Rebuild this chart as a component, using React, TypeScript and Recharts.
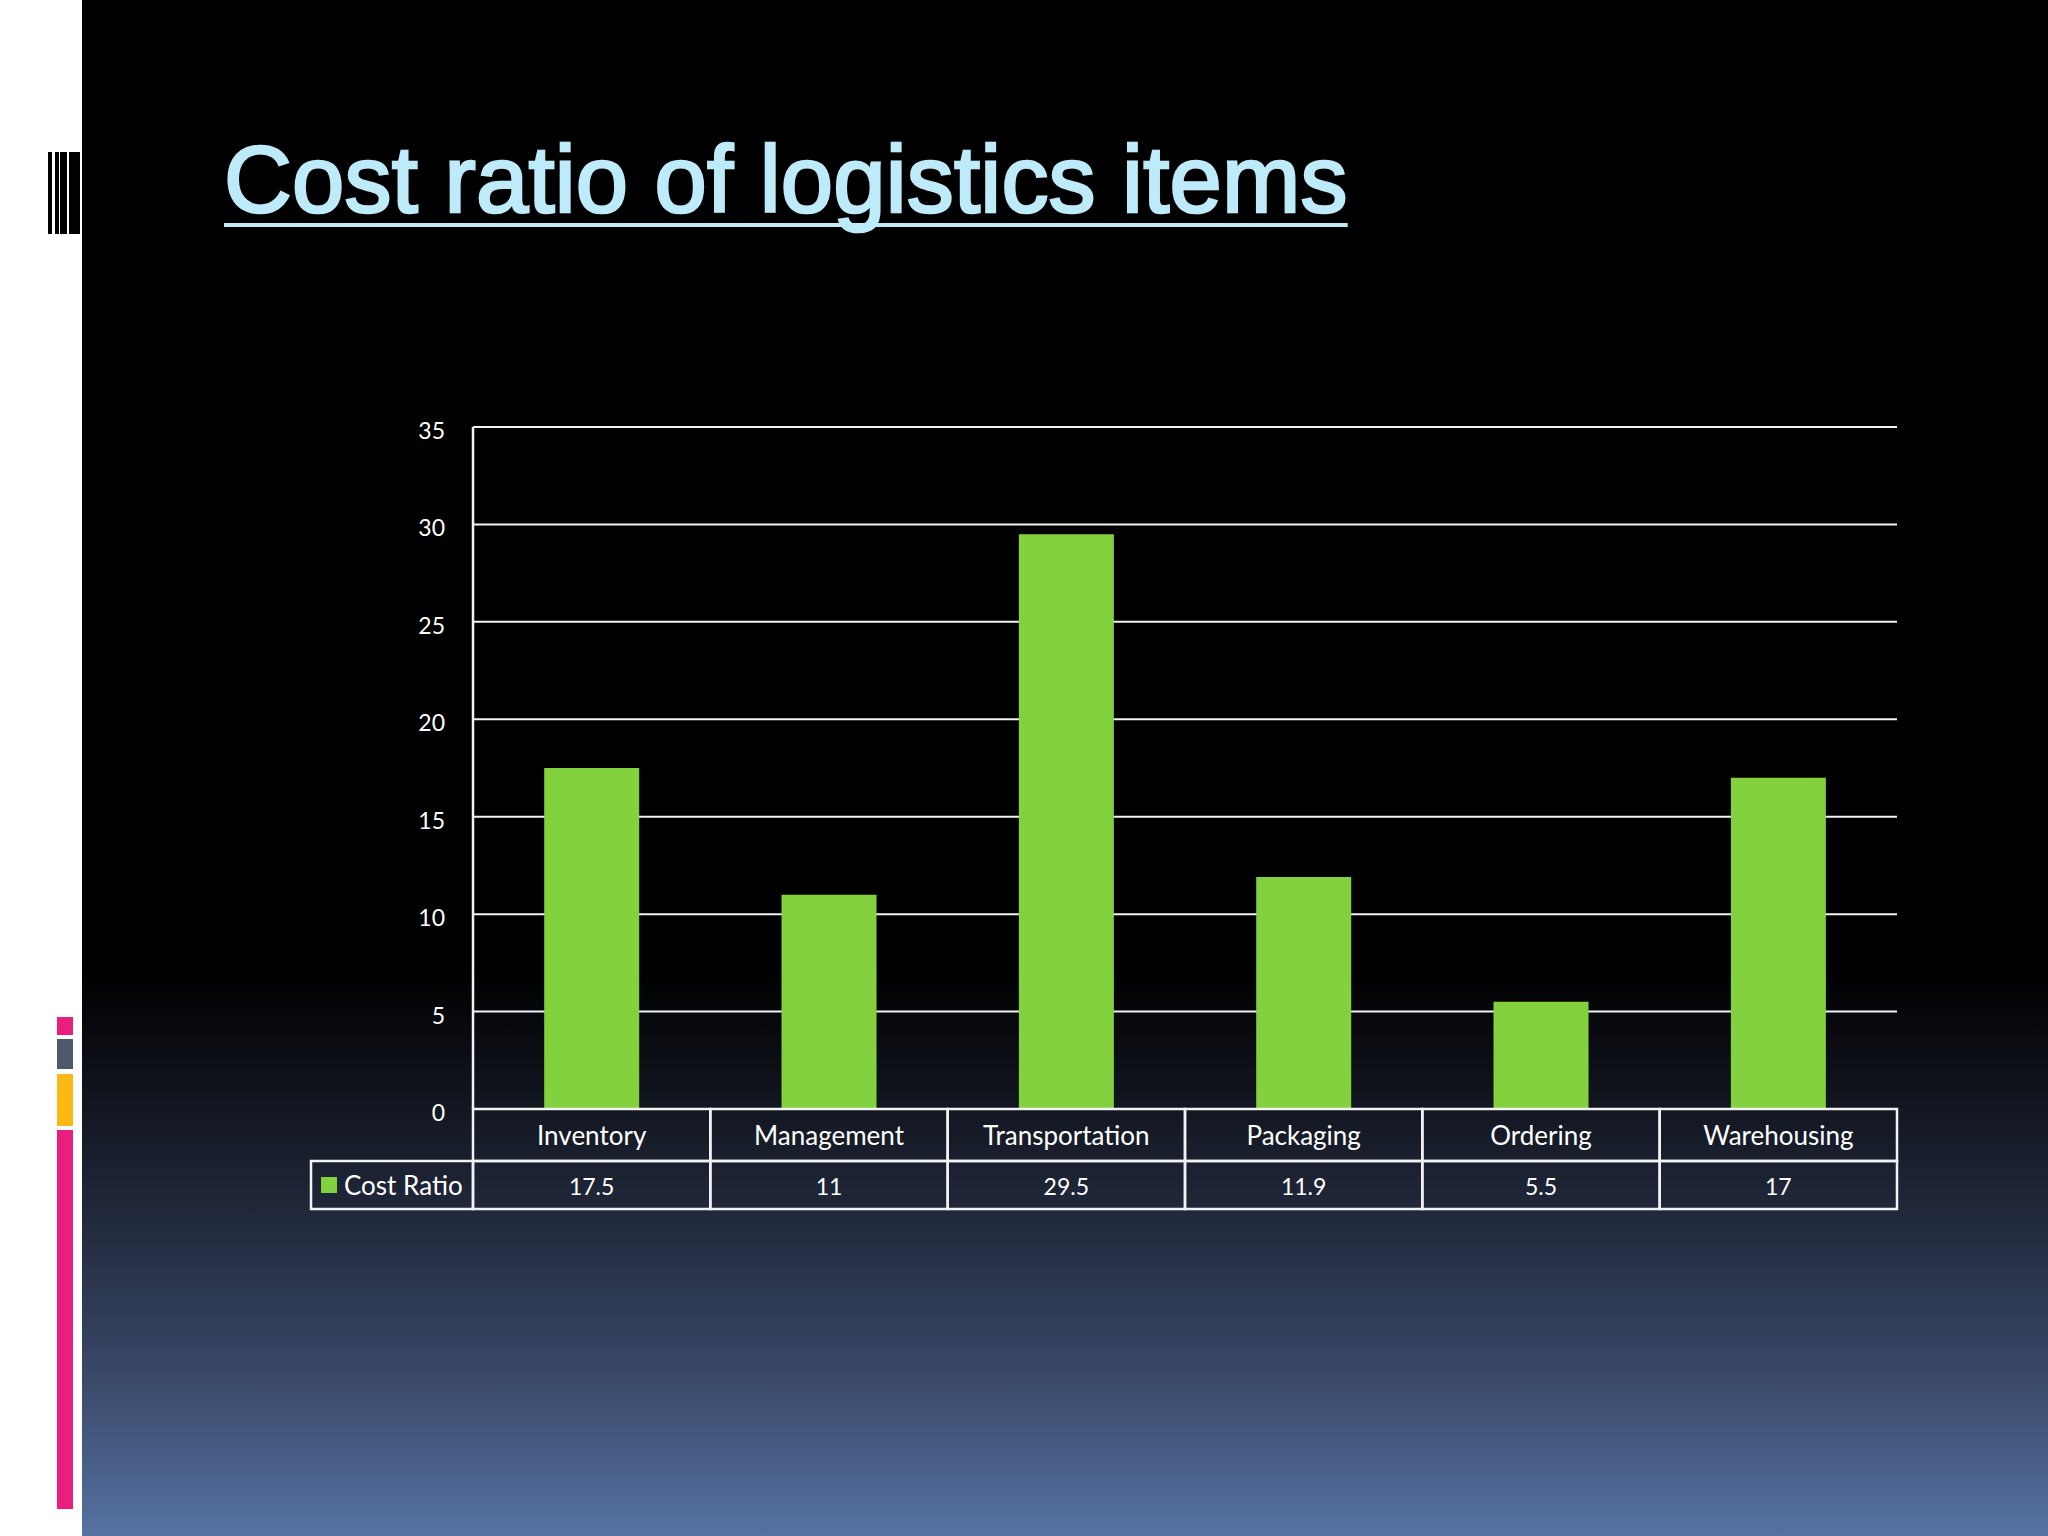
import React from 'react';
import { BarChart, Bar, XAxis, YAxis, CartesianGrid } from 'recharts';

const title = 'Cost ratio of logistics items';
const seriesName = 'Cost Ratio';
const categories = ['Inventory', 'Management', 'Transportation', 'Packaging', 'Ordering', 'Warehousing'];
const costRatio = [17.5, 11, 29.5, 11.9, 5.5, 17];
const valueLabels = ['17.5', '11', '29.5', '11.9', '5.5', '17'];
const yTicks = [0, 5, 10, 15, 20, 25, 30, 35];

const data = categories.map((c, i) => ({ category: c, value: costRatio[i], label: valueLabels[i] }));

const CHART_W = 2048;
const CHART_H = 1536;
const MARGIN = { top: 427, right: 151, bottom: 327, left: 413 };
const Y_W = 60;
const X_H = 100;
const PLOT_W = CHART_W - MARGIN.left - MARGIN.right - Y_W;
const CAT_H = 52;
const VAL_H = 48;
const LEG_W = 162;
const BAR_COLOR = '#84D140';
const LINE_COLOR = '#F2F2F2';
const FONT = 'Lato, "Open Sans", sans-serif';

const TableTick = (props: any) => {
  const { x, y, payload, index } = props;
  const bw = PLOT_W / categories.length;
  const left = x - bw / 2;
  const row = data[index] || data.find((d) => d.category === payload.value);
  return (
    <g>
      <rect x={left} y={y} width={bw} height={CAT_H} fill="none" stroke={LINE_COLOR} strokeWidth={2.5} />
      <rect x={left} y={y + CAT_H} width={bw} height={VAL_H} fill="none" stroke={LINE_COLOR} strokeWidth={2.5} />
      <text x={x} y={y + CAT_H / 2} textAnchor="middle" dominantBaseline="central" fill="#FFFFFF" fontSize={26} fontFamily={FONT}>
        {payload.value}
      </text>
      <text x={x} y={y + CAT_H + VAL_H / 2 + 1} textAnchor="middle" dominantBaseline="central" fill="#FFFFFF" fontSize={23} fontFamily={FONT}>
        {row ? row.label : ''}
      </text>
      {index === 0 && (
        <g>
          <rect x={left - LEG_W} y={y + CAT_H} width={LEG_W} height={VAL_H} fill="none" stroke={LINE_COLOR} strokeWidth={2.5} />
          <rect x={left - LEG_W + 10} y={y + CAT_H + VAL_H / 2 - 8} width={16} height={16} fill={BAR_COLOR} />
          <text x={left - LEG_W + 33} y={y + CAT_H + VAL_H / 2} dominantBaseline="central" fill="#FFFFFF" fontSize={26} fontFamily={FONT}>
            {seriesName}
          </text>
        </g>
      )}
    </g>
  );
};

const YTick = (props: any) => {
  const { x, y, payload } = props;
  return (
    <text x={x} y={y + 3} textAnchor="end" dominantBaseline="central" fill="#FFFFFF" fontSize={23} fontFamily={FONT}>
      {payload.value}
    </text>
  );
};

export default function App() {
  return (
    <div
      style={{
        position: 'absolute',
        left: 0,
        top: 0,
        width: CHART_W,
        height: CHART_H,
        overflow: 'hidden',
        background:
          'linear-gradient(to bottom, #000000 0%, #000000 63%, #0e1119 70%, #232b3f 80%, #3b4a6a 90%, #5672a3 100%)',
      }}
    >
      <div style={{ position: 'absolute', left: 0, top: 0, width: 82, height: CHART_H, background: '#FFFFFF' }} />
      <div style={{ position: 'absolute', left: 48, top: 152, width: 4, height: 82, background: '#000' }} />
      <div style={{ position: 'absolute', left: 55, top: 152, width: 4, height: 82, background: '#000' }} />
      <div style={{ position: 'absolute', left: 60, top: 152, width: 7, height: 82, background: '#000' }} />
      <div style={{ position: 'absolute', left: 69, top: 152, width: 11, height: 82, background: '#000' }} />
      <div style={{ position: 'absolute', left: 57, top: 1017, width: 16, height: 18, background: '#E91E7D' }} />
      <div style={{ position: 'absolute', left: 57, top: 1039, width: 16, height: 30, background: '#4E5A6C' }} />
      <div style={{ position: 'absolute', left: 57, top: 1074, width: 16, height: 52, background: '#FDB813' }} />
      <div style={{ position: 'absolute', left: 57, top: 1130, width: 16, height: 379, background: '#E91E7D' }} />

      <div
        style={{
          position: 'absolute',
          left: 224,
          top: 133,
          fontFamily: '"Liberation Sans", Arial, sans-serif',
          fontSize: 94,
          lineHeight: '94px',
          letterSpacing: '0.2px',
          color: '#BDEBFA',
          WebkitTextStroke: '2.6px #BDEBFA',
          whiteSpace: 'nowrap',
          textDecoration: 'underline',
          textDecorationThickness: '4px',
          textUnderlineOffset: '11px',
          textDecorationSkipInk: 'none',
        }}
      >
        {title}
      </div>

      <div style={{ position: 'absolute', left: 0, top: 0 }}>
        <BarChart width={CHART_W} height={CHART_H} data={data} margin={MARGIN} barCategoryGap="30%">
          <CartesianGrid horizontal vertical={false} stroke={LINE_COLOR} strokeWidth={2} />
          <XAxis
            dataKey="category"
            height={X_H}
            interval={0}
            tickLine={false}
            axisLine={false}
            tickSize={0}
            tickMargin={0}
            tick={<TableTick />}
          />
          <YAxis
            width={Y_W}
            domain={[0, 35]}
            ticks={yTicks}
            interval={0}
            tickLine={false}
            axisLine={{ stroke: LINE_COLOR, strokeWidth: 2.5 }}
            tickSize={0}
            tickMargin={28}
            tick={<YTick />}
          />
          <Bar dataKey="value" name={seriesName} fill={BAR_COLOR} isAnimationActive={false} />
        </BarChart>
      </div>
    </div>
  );
}
